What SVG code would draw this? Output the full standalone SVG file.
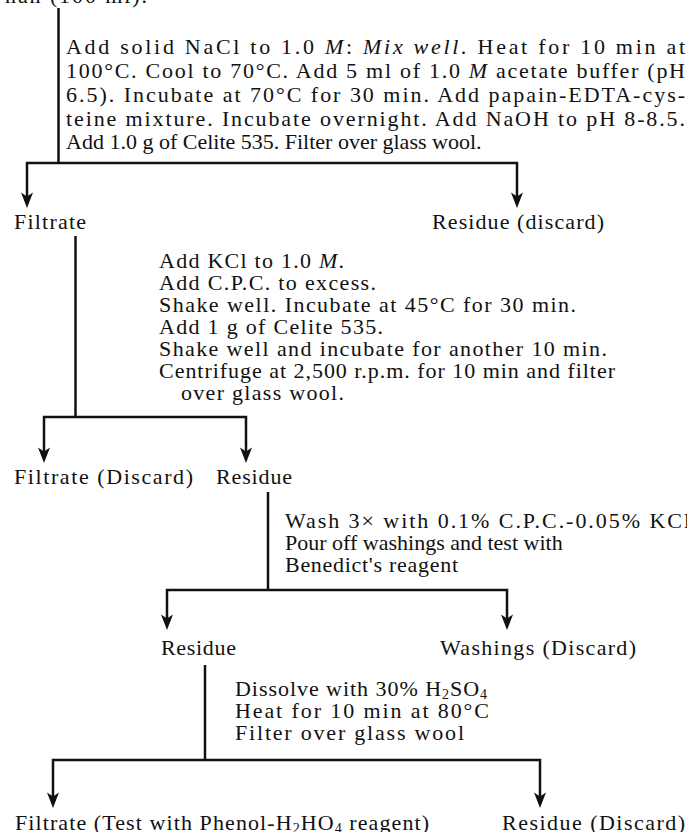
<svg xmlns="http://www.w3.org/2000/svg" width="687" height="832" viewBox="0 0 687 832">
<style>
text{font-family:"Liberation Serif","Times New Roman",serif;font-size:22px;fill:#111;}
.it{font-style:italic;}
.sub{font-size:14px;}
.ln{fill:none;stroke:#111;stroke-width:2.5;}
</style>
<defs>
<marker id="ah" markerUnits="userSpaceOnUse" markerWidth="18" markerHeight="14" refX="8" refY="6.5" orient="auto-start-reverse" overflow="visible">
<path d="M16,6.5 L0.5,0.5 L4.5,6.5 L0.5,12.5 Z" fill="#111"/>
</marker>
</defs>
<rect width="687" height="832" fill="#fff"/>
<g id="connectors">
<path class="ln" d="M58.5,8 V163"/>
<path class="ln" d="M27,200 V163 H517 V200" marker-start="url(#ah)" marker-end="url(#ah)"/>
<path class="ln" d="M75.5,236 V417"/>
<path class="ln" d="M44,455 V417 H246 V455" marker-start="url(#ah)" marker-end="url(#ah)"/>
<path class="ln" d="M268,492 V590"/>
<path class="ln" d="M167,622 V590 H507 V622" marker-start="url(#ah)" marker-end="url(#ah)"/>
<path class="ln" d="M205,665 V760"/>
<path class="ln" d="M53,800 V760 H540 V800" marker-start="url(#ah)" marker-end="url(#ah)"/>
</g>
<g id="start"><text x="5" y="3" textLength="142" lengthAdjust="spacing">nan (100 ml).</text></g>
<g id="step1">
<text x="66" y="54" textLength="619" lengthAdjust="spacing">Add solid NaCl to 1.0 <tspan class="it">M</tspan>: <tspan class="it">Mix well.</tspan> Heat for 10 min at</text>
<text x="66" y="78" textLength="619" lengthAdjust="spacing">100°C. Cool to 70°C. Add 5 ml of 1.0 <tspan class="it">M</tspan> acetate buffer (pH</text>
<text x="66" y="102" textLength="619" lengthAdjust="spacing">6.5). Incubate at 70°C for 30 min. Add papain-EDTA-cys-</text>
<text x="66" y="126" textLength="619" lengthAdjust="spacing">teine mixture. Incubate overnight. Add NaOH to pH 8-8.5.</text>
<text x="66" y="149">Add 1.0 g of Celite 535. Filter over glass wool.</text>
</g>
<g id="filtrate1"><text x="14" y="229" textLength="72" lengthAdjust="spacing">Filtrate</text></g>
<g id="residue1"><text x="432" y="229" textLength="172" lengthAdjust="spacing">Residue (discard)</text></g>
<g id="step2">
<text x="159" y="268" textLength="185" lengthAdjust="spacing">Add KCl to 1.0 <tspan class="it">M</tspan>.</text>
<text x="159" y="290" textLength="217" lengthAdjust="spacing">Add C.P.C. to excess.</text>
<text x="159" y="312" textLength="417" lengthAdjust="spacing">Shake well. Incubate at 45°C for 30 min.</text>
<text x="159" y="334" textLength="224" lengthAdjust="spacing">Add 1 g of Celite 535.</text>
<text x="159" y="356" textLength="448" lengthAdjust="spacing">Shake well and incubate for another 10 min.</text>
<text x="159" y="378" textLength="456" lengthAdjust="spacing">Centrifuge at 2,500 r.p.m. for 10 min and filter</text>
<text x="181" y="400" textLength="163" lengthAdjust="spacing">over glass wool.</text>
</g>
<g id="filtrate2"><text x="14" y="484" textLength="179" lengthAdjust="spacing">Filtrate (Discard)</text></g>
<g id="residue2"><text x="216" y="484" textLength="76" lengthAdjust="spacing">Residue</text></g>
<g id="step3">
<text x="285" y="528" textLength="405" lengthAdjust="spacing">Wash 3× with 0.1% C.P.C.-0.05% KCl</text>
<text x="285" y="550">Pour off washings and test with</text>
<text x="285" y="572" textLength="173" lengthAdjust="spacing">Benedict's reagent</text>
</g>
<g id="residue3"><text x="161" y="655" textLength="75" lengthAdjust="spacing">Residue</text></g>
<g id="washings"><text x="440" y="655" textLength="196" lengthAdjust="spacing">Washings (Discard)</text></g>
<g id="step4">
<text x="235" y="696" textLength="252" lengthAdjust="spacing">Dissolve with 30% H<tspan class="sub" dy="3">2</tspan><tspan dy="-3">SO</tspan><tspan class="sub" dy="3">4</tspan></text>
<text x="235" y="718" textLength="254" lengthAdjust="spacing">Heat for 10 min at 80°C</text>
<text x="235" y="740" textLength="229" lengthAdjust="spacing">Filter over glass wool</text>
</g>
<g id="filtrate3"><text x="15" y="830" textLength="414" lengthAdjust="spacing">Filtrate (Test with Phenol-H<tspan class="sub" dy="3">2</tspan><tspan dy="-3">HO</tspan><tspan class="sub" dy="3">4</tspan><tspan dy="-3"> reagent)</tspan></text></g>
<g id="residue4"><text x="502" y="830" textLength="183" lengthAdjust="spacing">Residue (Discard)</text></g>
</svg>
